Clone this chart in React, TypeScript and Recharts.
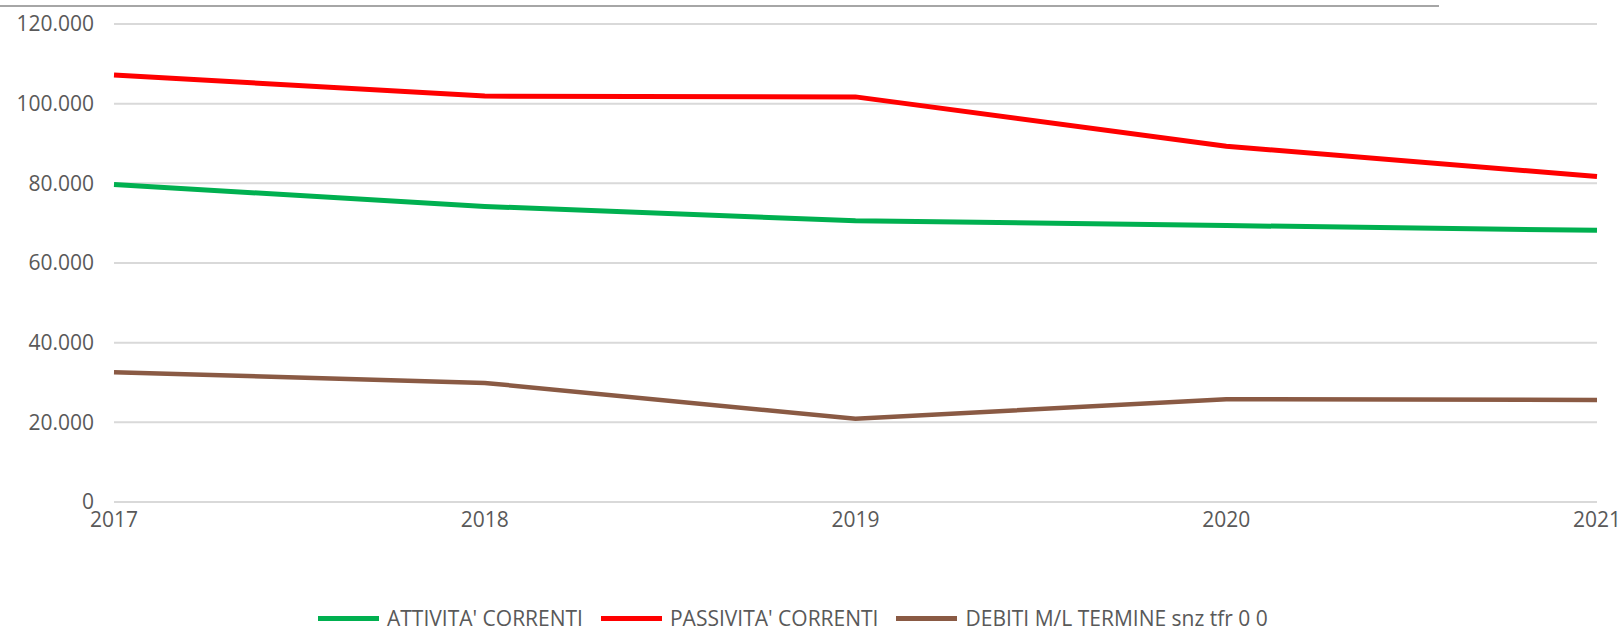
import { LineChart, Line, XAxis, YAxis, CartesianGrid, Legend } from "recharts";

const years = ["2017", "2018", "2019", "2020", "2021"];
const attivitaCorrenti = [79700, 74200, 70600, 69400, 68200];
const passivitaCorrenti = [107200, 101900, 101700, 89300, 81700];
const debitiMLTermine = [32600, 29900, 20900, 25800, 25600];
const yTicks = [0, 20000, 40000, 60000, 80000, 100000, 120000];

const series = [
  { key: "attivita", name: "ATTIVITA' CORRENTI", color: "#00B050", width: 5 },
  { key: "passivita", name: "PASSIVITA' CORRENTI", color: "#FF0000", width: 5 },
  { key: "debiti", name: "DEBITI M/L TERMINE snz tfr 0 0", color: "#8A5A44", width: 4.5 },
];

const data = years.map((year, i) => ({
  year,
  attivita: attivitaCorrenti[i],
  passivita: passivitaCorrenti[i],
  debiti: debitiMLTermine[i],
}));

const fontFamily = "'Open Sans', sans-serif";

// thousands with a dot, e.g. 120.000
const formatThousands = (v: number) =>
  String(Math.round(v)).replace(/\B(?=(\d{3})+(?!\d))/g, ".");

const ChartLegend = () => (
  <div
    style={{
      display: "flex",
      alignItems: "center",
      height: 24,
      lineHeight: "24px",
      paddingLeft: 318,
      fontFamily,
      fontSize: 21,
      color: "#595959",
      whiteSpace: "nowrap",
    }}
  >
    {series.map((s) => (
      <div key={s.key} style={{ display: "flex", alignItems: "center", marginRight: 18 }}>
        <span style={{ display: "inline-block", width: 61, height: 5, background: s.color, marginRight: 8 }} />
        <span>{s.name}</span>
      </div>
    ))}
  </div>
);

export default function App() {
  return (
    <div style={{ position: "absolute", left: 0, top: 0, width: 1622, height: 630, background: "#fff" }}>
      <div
        style={{ position: "absolute", left: 0, top: 4.5, width: 1439, height: 2, background: "#A6A6A6" }}
      />
      <LineChart
        width={1622}
        height={630}
        data={data}
        margin={{ top: 24, right: 25, left: 0, bottom: 0 }}
      >
        <CartesianGrid vertical={false} stroke="#D9D9D9" strokeWidth={2} />
        <XAxis
          dataKey="year"
          axisLine={false}
          tickLine={false}
          tickSize={0}
          tickMargin={10}
          height={104}
          interval={0}
          tick={{ fill: "#595959", fontSize: 21, fontFamily }}
        />
        <YAxis
          width={114}
          domain={[0, 120000]}
          ticks={yTicks}
          axisLine={false}
          tickLine={false}
          tickSize={0}
          tickMargin={20}
          tickFormatter={formatThousands}
          tick={{ fill: "#595959", fontSize: 21, fontFamily }}
        />
        <Legend verticalAlign="bottom" content={<ChartLegend />} wrapperStyle={{ height: 24 }} />
        {series.map((s) => (
          <Line
            key={s.key}
            dataKey={s.key}
            name={s.name}
            stroke={s.color}
            strokeWidth={s.width}
            dot={false}
            activeDot={false}
            isAnimationActive={false}
          />
        ))}
      </LineChart>
    </div>
  );
}
